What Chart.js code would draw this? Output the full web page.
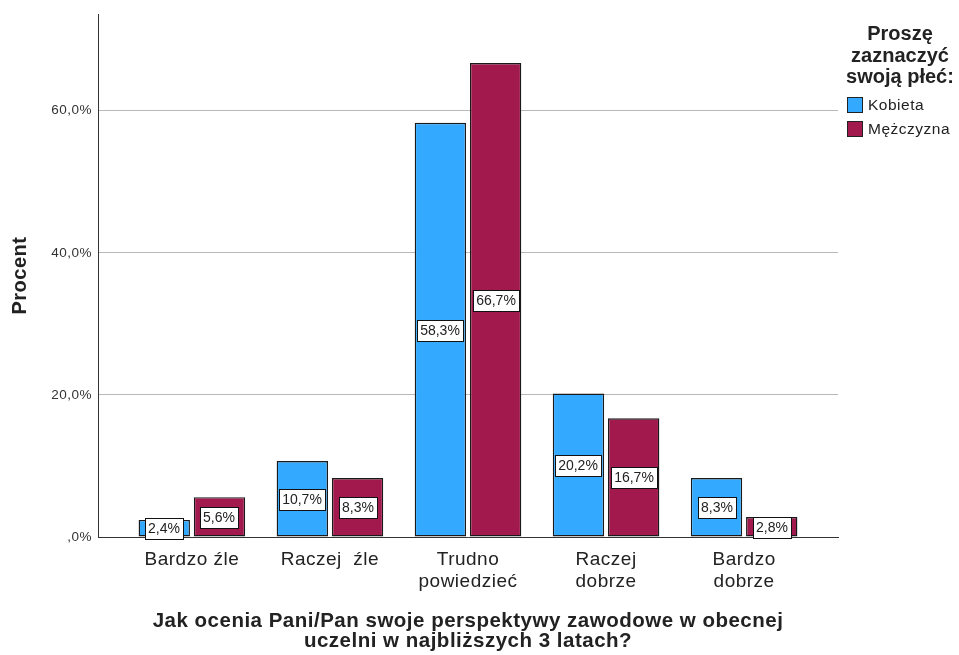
<!DOCTYPE html>
<html>
<head>
<meta charset="utf-8">
<script src="https://cdn.jsdelivr.net/npm/chart.js@4"></script>
<style>
  html, body { margin: 0; padding: 0; background: #fff; }
  #wrap { width: 959px; height: 655px; }
</style>
</head>
<body>
<div id="wrap"><canvas id="chart" width="959" height="655"></canvas></div>
<script>
// answers (x axis), split into lines
const categories = [
  ['Bardzo źle'],
  ['Raczej  źle'],
  ['Trudno', 'powiedzieć'],
  ['Raczej', 'dobrze'],
  ['Bardzo', 'dobrze']
];
// percent per gender
const kobieta = [2.4, 10.7, 58.3, 20.2, 8.3];
const mezczyzna = [5.6, 8.3, 66.7, 16.7, 2.8];
const seriesNames = ['Kobieta', 'Mężczyzna'];
const yTicks = [0, 20, 40, 60];
const legendTitle = ['Proszę', 'zaznaczyć', 'swoją płeć:'];

const FONT = "'Liberation Sans', Arial, sans-serif";
const TEXT = '#222';

// 12.5 -> "12,5%", 0 -> ",0%"
function pct(v) {
  let s = v.toFixed(1).replace('.', ',');
  if (s.startsWith('0,')) s = s.slice(1);
  return s + '%';
}

function toPoints(arr) {
  return arr.map((v, i) => ({ x: i, y: v }));
}

// axis text is set a little wider
const spacing = {
  id: 'spacing',
  beforeInit(chart) { chart.ctx.letterSpacing = '0.5px'; },
  beforeDraw(chart) { chart.ctx.letterSpacing = '0.5px'; }
};

// white boxed value in the middle of each bar
const valueLabels = {
  id: 'valueLabels',
  afterDatasetsDraw(chart) {
    const ctx = chart.ctx;
    ctx.save();
    ctx.letterSpacing = '0px';
    ctx.font = '14px ' + FONT;
    ctx.textAlign = 'center';
    ctx.textBaseline = 'middle';
    chart.data.datasets.forEach((ds, di) => {
      chart.getDatasetMeta(di).data.forEach((bar, i) => {
        const txt = pct(ds.data[i].y);
        const w = Math.round(ctx.measureText(txt).width) + 6;
        const h = 21;
        const cx = Math.round(bar.x);
        const cy = Math.round((bar.y + bar.base) / 2);
        const x0 = Math.round(cx - w / 2) + 0.5;
        const y0 = Math.round(cy - h / 2) + 0.5;
        ctx.fillStyle = '#fff';
        ctx.fillRect(x0, y0, w, h);
        ctx.strokeStyle = '#111';
        ctx.lineWidth = 1;
        ctx.strokeRect(x0, y0, w, h);
        ctx.fillStyle = TEXT;
        ctx.fillText(txt, cx, cy + 1);
      });
    });
    ctx.restore();
  }
};

// legend with a three line title on the right
const sideLegend = {
  id: 'sideLegend',
  afterDraw(chart) {
    const ctx = chart.ctx;
    ctx.save();
    ctx.letterSpacing = '0px';
    ctx.fillStyle = TEXT;
    ctx.font = 'bold 20px ' + FONT;
    ctx.textAlign = 'center';
    ctx.textBaseline = 'alphabetic';
    legendTitle.forEach((line, i) => ctx.fillText(line, 900, 40 + i * 21.5));
    ctx.letterSpacing = '0.5px';
    ctx.font = '15.5px ' + FONT;
    ctx.textAlign = 'left';
    ctx.textBaseline = 'middle';
    chart.data.datasets.forEach((ds, i) => {
      const y = 97 + i * 24;
      ctx.fillStyle = ds.backgroundColor;
      ctx.fillRect(847, y, 16, 16);
      ctx.strokeStyle = '#222';
      ctx.lineWidth = 1;
      ctx.strokeRect(847.5, y + 0.5, 15, 15);
      ctx.fillStyle = TEXT;
      ctx.fillText(ds.label, 868, y + 9);
    });
    ctx.restore();
  }
};

new Chart(document.getElementById('chart'), {
  type: 'bar',
  data: {
    datasets: [
      {
        label: seriesNames[0],
        data: toPoints(kobieta),
        backgroundColor: '#33aaff',
        borderColor: '#1a1a1a',
        borderWidth: 1.4,
        borderSkipped: false
      },
      {
        label: seriesNames[1],
        data: toPoints(mezczyzna),
        backgroundColor: '#a2194e',
        borderColor: '#1a1a1a',
        borderWidth: 1.4,
        borderSkipped: false
      }
    ]
  },
  options: {
    responsive: false,
    animation: false,
    categoryPercentage: 0.8,
    barPercentage: 0.93,
    layout: { padding: { top: 12, right: 121, left: 0, bottom: 0 } },
    plugins: {
      legend: { display: false },
      tooltip: { enabled: false }
    },
    scales: {
      x: {
        type: 'linear',
        offset: false,
        min: -0.68,
        max: 4.68,
        afterFit(s) { s.height = 118; },
        afterBuildTicks(s) { s.ticks = categories.map((c, i) => ({ value: i })); },
        grid: { display: false, offset: false },
        border: { display: true, color: '#333', width: 1 },
        ticks: {
          autoSkip: false,
          maxRotation: 0,
          padding: 4,
          color: TEXT,
          font: { family: FONT, size: 19, lineHeight: '22px' },
          callback: v => categories[v]
        },
        title: {
          display: true,
          text: ['Jak ocenia Pani/Pan swoje perspektywy zawodowe w obecnej', 'uczelni w najbliższych 3 latach?'],
          color: TEXT,
          font: { family: FONT, size: 20.5, weight: 'bold', lineHeight: '20px' },
          padding: { top: 0, bottom: 4 }
        }
      },
      y: {
        min: 0,
        max: 73.6,
        afterFit(s) { s.width = 98; },
        afterBuildTicks(s) { s.ticks = yTicks.map(v => ({ value: v })); },
        grid: {
          color: c => (c.tick && c.tick.value === 0 ? 'rgba(0,0,0,0)' : '#b8b8b8'),
          drawTicks: false,
          tickLength: 0
        },
        border: { display: true, color: '#333', width: 1 },
        ticks: {
          padding: 6,
          color: '#333',
          font: { family: FONT, size: 13.5 },
          callback: v => pct(v)
        },
        title: {
          display: true,
          text: 'Procent',
          color: TEXT,
          font: { family: FONT, size: 20, weight: 'bold', lineHeight: 1.2 },
          padding: { top: 8, bottom: 0 }
        }
      }
    }
  },
  plugins: [spacing, valueLabels, sideLegend]
});
</script>
</body>
</html>
